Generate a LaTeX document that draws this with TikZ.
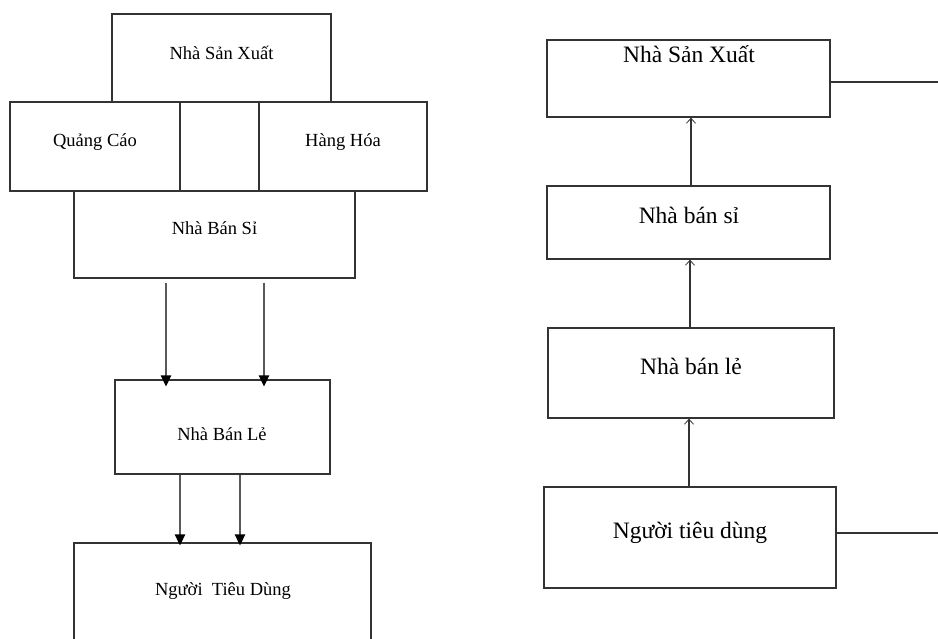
\documentclass[tikz,border=0pt]{standalone}
\usepackage{fontspec}
\setmainfont{Liberation Serif}
\usetikzlibrary{arrows.meta}
\begin{document}
\begin{tikzpicture}[x=1pt,y=-1pt,
  box/.style={draw=black!80, line width=1.3pt, rectangle, inner sep=0pt},
  ltxt/.style={font=\fontsize{18.5}{20}\selectfont, inner sep=0pt, anchor=base},
  rtxt/.style={font=\fontsize{23.5}{26}\selectfont, inner sep=0pt, anchor=base},
  darr/.style={draw=black!65, line width=1.3pt, -{Triangle[width=10.5pt,length=11pt,color=black]}},
  uarr/.style={draw=black!80, line width=1.2pt, -{Straight Barb[width=9pt,length=5pt,line width=0.8pt]}},
  conn/.style={draw=black!80, line width=1.3pt}]
\clip (0,0) rectangle (938,639);
% ---------- left diagram ----------
\node[box, minimum width=219pt, minimum height=88pt] (lnsx) at (221.5,58) {};
\node[box, minimum width=170pt, minimum height=89pt] (lqc) at (95,146.5) {};
\node[box, minimum width=79pt, minimum height=89pt] (lmid) at (219.5,146.5) {};
\node[box, minimum width=168pt, minimum height=89pt] (lhh) at (343,146.5) {};
\node[box, minimum width=281pt, minimum height=87pt] (lnbs) at (214.5,234.5) {};
\node[box, minimum width=215pt, minimum height=94pt] (lnbl) at (222.5,427) {};
\node[box, minimum width=297pt, minimum height=117pt] (lntd) at (222.5,601.5) {};
\node[ltxt] (tlnsx) at (221.5,59.5) {Nhà Sản Xuất};
\node[ltxt] (tlqc) at (95,147) {Quảng Cáo};
\node[ltxt] (tlhh) at (343,147) {Hàng Hóa};
\node[ltxt] (tlnbs) at (214.5,235) {Nhà Bán Sỉ};
\node[ltxt] (tlnbl) at (222,440) {Nhà Bán Lẻ};
\node[ltxt] (tlntd) at (223,595) {Người\ \ Tiêu Dùng};
\draw[darr, shorten <=4pt, shorten >=-7pt] ([xshift=-48.5pt]lnbs.south) -- ([xshift=-56.5pt]lnbl.north);
\draw[darr, shorten <=4pt, shorten >=-7pt] ([xshift=49.5pt]lnbs.south) -- ([xshift=41.5pt]lnbl.north);
\draw[darr, shorten >=-3pt] ([xshift=-42.5pt]lnbl.south) -- ([xshift=-42.5pt]lntd.north);
\draw[darr, shorten >=-3pt] ([xshift=17.5pt]lnbl.south) -- ([xshift=17.5pt]lntd.north);
% ---------- right diagram ----------
\node[box, minimum width=283pt, minimum height=77pt] (r1) at (688.5,78.5) {};
\node[box, minimum width=283pt, minimum height=73pt] (r2) at (688.5,222.5) {};
\node[box, minimum width=286pt, minimum height=90pt] (r3) at (691,373) {};
\node[box, minimum width=292pt, minimum height=101pt] (r4) at (690,537.5) {};
\node[rtxt] (tr1) at (689,62.5) {Nhà Sản Xuất};
\node[rtxt] (tr2) at (689,224) {Nhà bán sỉ};
\node[rtxt] (tr3) at (691,374) {Nhà bán lẻ};
\node[rtxt] (tr4) at (690,538) {Người tiêu dùng};
\draw[uarr] ([xshift=2.5pt]r2.north) -- ([xshift=2.5pt]r1.south);
\draw[uarr] ([xshift=-1pt]r3.north) -- ([xshift=1.5pt]r2.south);
\draw[uarr] ([xshift=-1pt]r4.north) -- ([xshift=-2pt]r3.south);
\coordinate (e1) at (942,82);
\coordinate (e2) at (942,533);
\draw[conn] ([yshift=-3.5pt]r1.east) -- (e1);
\draw[conn] ([yshift=4.5pt]r4.east) -- (e2);
\end{tikzpicture}
\end{document}
